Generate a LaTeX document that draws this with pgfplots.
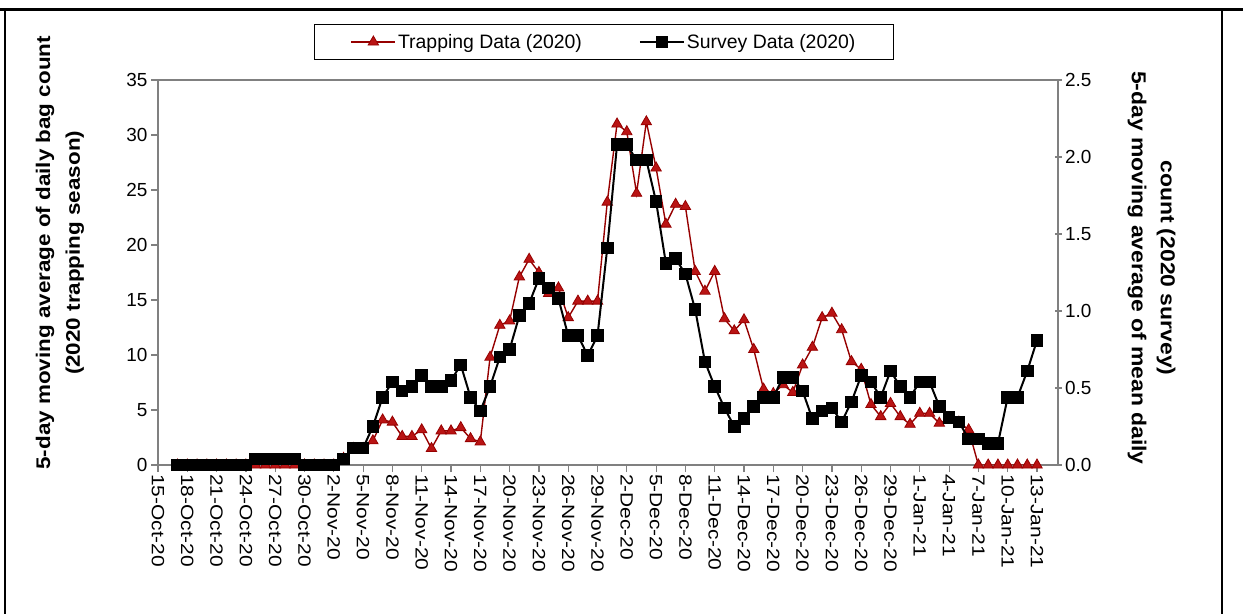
\documentclass[border=0pt]{standalone}
\usepackage{fontspec}
\setmainfont{Liberation Sans}
\usepackage{pgfplots}
\usepackage{pgfplotstable}
\pgfplotsset{compat=1.18}

\definecolor{trapline}{RGB}{150,0,0}
\definecolor{trapfill}{RGB}{185,20,20}
\definecolor{axgray}{RGB}{128,128,128}

% day 0 = 15-Oct-20
\pgfplotstableread{
d trap
2 0
3 0
4 0
5 0
6 0
7 0
8 0
9 0
10 0
11 0
12 0
13 0
14 0
15 0
16 0
17 0
18 0
19 0.6
20 1.5
21 1.5
22 2.2
23 4.1
24 3.9
25 2.6
26 2.6
27 3.2
28 1.5
29 3.1
30 3.1
31 3.4
32 2.4
33 2.1
34 9.8
35 12.7
36 13.1
37 17.1
38 18.7
39 17.5
40 15.6
41 16.1
42 13.4
43 14.9
44 14.9
45 14.9
46 23.9
47 31.0
48 30.3
49 24.7
50 31.2
51 27.0
52 21.9
53 23.7
54 23.5
55 17.6
56 15.8
57 17.6
58 13.3
59 12.2
60 13.2
61 10.5
62 6.9
63 6.5
64 7.3
65 6.6
66 9.1
67 10.7
68 13.4
69 13.8
70 12.3
71 9.4
72 8.7
73 5.5
74 4.4
75 5.6
76 4.4
77 3.7
78 4.7
79 4.7
80 3.8
81 4.2
82 3.9
83 3.2
84 0
85 0
86 0
87 0
88 0
89 0
90 0
}\traptable

\pgfplotstableread{
d surv
2 0
3 0
4 0
5 0
6 0
7 0
8 0
9 0
10 0.04
11 0.04
12 0.04
13 0.04
14 0.04
15 0
16 0
17 0
18 0
19 0.04
20 0.11
21 0.11
22 0.25
23 0.44
24 0.54
25 0.48
26 0.51
27 0.58
28 0.51
29 0.51
30 0.55
31 0.65
32 0.44
33 0.35
34 0.51
35 0.70
36 0.75
37 0.97
38 1.05
39 1.21
40 1.15
41 1.08
42 0.84
43 0.84
44 0.71
45 0.84
46 1.41
47 2.08
48 2.08
49 1.98
50 1.98
51 1.71
52 1.31
53 1.34
54 1.24
55 1.01
56 0.67
57 0.51
58 0.37
59 0.25
60 0.30
61 0.38
62 0.44
63 0.44
64 0.57
65 0.57
66 0.48
67 0.30
68 0.35
69 0.37
70 0.28
71 0.41
72 0.58
73 0.54
74 0.44
75 0.61
76 0.51
77 0.44
78 0.54
79 0.54
80 0.38
81 0.31
82 0.28
83 0.17
84 0.17
85 0.14
86 0.14
87 0.44
88 0.44
89 0.61
90 0.81
}\survtable

\pgfplotsset{
  trapstyle/.style={color=trapline, line width=1.4bp, mark=triangle*, mark size=6bp,
    mark options={fill=trapfill, draw=trapline, line width=0.8bp}},
  survstyle/.style={color=black, line width=2bp, mark=square*, mark size=5.3bp,
    mark options={fill=black, draw=black}},
  common/.style={
    at={(158bp,149bp)}, anchor=south west,
    width=900bp, height=385bp, scale only axis,
    xmin=0, xmax=92.15,
    font=\fontsize{19}{22}\selectfont,
    /pgf/number format/assume math mode=true,
    major tick length=7bp,
    every tick/.style={axgray, line width=1.2bp},
    axis line style={axgray, line width=1.5bp},
  },
}

\begin{document}
\begin{tikzpicture}
\useasboundingbox (0,0) rectangle (1243bp,614bp);
\draw[line width=3bp] (0,604bp) -- (1243bp,604bp);
\draw[line width=1.5bp] (5bp,0) -- (5bp,604bp);
\draw[line width=1.5bp] (1222bp,0) -- (1222bp,604bp);

\begin{axis}[
  common,
  ymin=0, ymax=35,
  ytick={0,5,10,15,20,25,30,35},
  xtick={0,3,...,90},
  xticklabels={15-Oct-20,18-Oct-20,21-Oct-20,24-Oct-20,27-Oct-20,30-Oct-20,2-Nov-20,5-Nov-20,8-Nov-20,11-Nov-20,14-Nov-20,17-Nov-20,20-Nov-20,23-Nov-20,26-Nov-20,29-Nov-20,2-Dec-20,5-Dec-20,8-Dec-20,11-Dec-20,14-Dec-20,17-Dec-20,20-Dec-20,23-Dec-20,26-Dec-20,29-Dec-20,1-Jan-21,4-Jan-21,7-Jan-21,10-Jan-21,13-Jan-21},
  xticklabel style={rotate=-90, yscale=0.85, anchor=west, inner sep=2bp, font=\fontsize{21}{24}\selectfont},
  tick align=outside,
  xtick pos=bottom, ytick pos=left,
  ylabel={5-day moving average of daily bag count\\(2020 trapping season)},
  ylabel style={at={(axis description cs:-0.109,0.551)}, anchor=center, align=center,
    yscale=0.88, font=\fontsize{22.5}{34}\selectfont\bfseries},
]
\addplot[trapstyle] table[x=d, y=trap] {\traptable};
\end{axis}

\begin{axis}[
  common,
  ymin=0, ymax=2.5,
  axis x line=none,
  axis y line*=right,
  ytick={0,0.5,1,1.5,2,2.5},
  yticklabel style={/pgf/number format/.cd, fixed, fixed zerofill, precision=1},
  tick align=center,
  ylabel={count (2020 survey)\\5-day moving average of mean daily},
  ylabel style={at={(axis description cs:1.104,0.512)}, anchor=center, align=center,
    rotate=180, yscale=0.88, font=\fontsize{23}{33}\selectfont\bfseries},
  legend columns=2,
  legend style={at={(axis description cs:0.4956,1.0987)}, anchor=center,
    draw=black, line width=1bp, font=\fontsize{19.5}{22}\selectfont,
    inner xsep=36bp, inner ysep=8bp,
    /tikz/every even column/.append style={column sep=55bp}},
  legend image code/.code={%
    \draw[mark repeat=2, mark phase=2] plot coordinates {(0bp,0bp) (22bp,0bp) (44bp,0bp)};},
]
\addlegendimage{trapstyle}
\addlegendentry{Trapping Data (2020)}
\addplot[survstyle] table[x=d, y=surv] {\survtable};
\addlegendentry{Survey Data (2020)}
\end{axis}
\end{tikzpicture}
\end{document}
